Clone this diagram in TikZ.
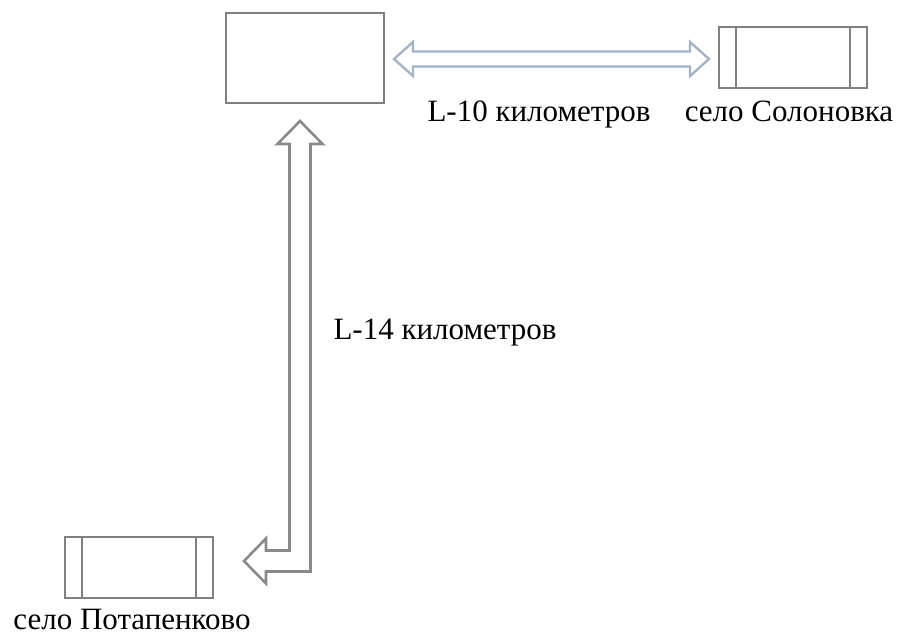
\documentclass[tikz,border=0pt]{standalone}
\usepackage{fontspec}
\setmainfont{Liberation Serif}
\usetikzlibrary{calc,positioning}
\definecolor{gray1}{RGB}{128,128,128}
\definecolor{gray2}{RGB}{138,138,138}
\definecolor{blue1}{RGB}{162,180,204}

\begin{document}
\begin{tikzpicture}[x=0.5pt,y=-0.5pt,
    hubbox/.style={draw=gray1, line width=1pt, minimum width=79pt, minimum height=45pt, inner sep=0pt},
    village/.style={draw=gray1, line width=1pt, minimum width=74pt, minimum height=30.5pt, inner sep=0pt,
      path picture={
        \draw[gray1, line width=1pt] ([xshift=8.5pt]path picture bounding box.north west) -- ([xshift=8.5pt]path picture bounding box.south west);
        \draw[gray1, line width=1pt] ([xshift=-8.5pt]path picture bounding box.north east) -- ([xshift=-8.5pt]path picture bounding box.south east);
      }},
    lbl/.style={font=\fontsize{15.5}{18}\selectfont, anchor=base, inner sep=0pt},
    hollow/.style={draw=gray2, line width=1.3pt, line join=miter},
    hollowblue/.style={draw=blue1, line width=1.2pt, line join=miter}
]
        \useasboundingbox (0,0) rectangle (900,635);

        \node[hubbox, name=hub] at(305,58) {};
        \node[village, name=solon] at(793,58) {};
        \node[village, name=poti] at(139,568) {};

        \node[lbl, name=lblten] at(539,122) {L-10 километров};
        \node[lbl, name=lblsolon] at(789,122) {село Солоновка};
        \node[lbl, name=lblfourteen] at(445,340) {L-14 километров};
        \node[lbl, name=lblpoti] at(132,630) {село Потапенково};

        % hub <-> Solonovka
        \coordinate (hA) at ($(hub.east)+(9,1)$);
        \coordinate (hB) at ($(solon.west)+(-9,1)$);
        \draw[hollowblue] (hA) -- ++(19,-17) -- ++(0,9.5) -- ($(hB)+(-19,-7.5)$) -- ++(0,-9.5) -- (hB)
            -- ++(-19,17) -- ++(0,-9.5) -- ($(hA)+(19,7.5)$) -- ++(0,9.5) -- cycle;

        % hub <- Potapenkovo
        \coordinate (vt) at ($(hub.south)+(-5,17)$);
        \coordinate (vb) at ($(poti.east)+(30,-7)$);
        \coordinate (vc) at (vt |- vb);
        \draw[hollow] (vt) -- ++(22.5,23) -- ++(-12,0) -- ($(vc)+(10.5,10.5)$) -- ($(vb)+(22,10.5)$) -- ++(0,12)
            -- (vb) -- ++(22,-22.5) -- ++(0,12) -- ($(vc)+(-10.5,-10.5)$) -- ($(vt)+(-10.5,23)$) -- ++(-12,0) -- cycle;
\end{tikzpicture}
\end{document}
